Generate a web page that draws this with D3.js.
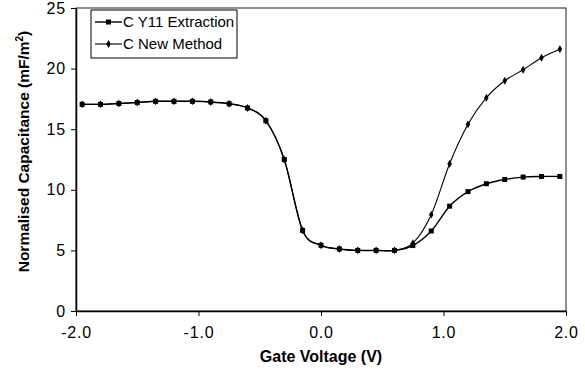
<!DOCTYPE html>
<html>
<head>
<meta charset="utf-8">
<script src="https://cdn.jsdelivr.net/npm/d3@7"></script>
<style>
  body { margin: 0; background: #fff; }
  text { font-family: "Liberation Sans", Arial, sans-serif; fill: #000; }
</style>
</head>
<body>
<div id="chart"></div>
<script>
// gate voltage (V)
const voltage = [-1.95, -1.80, -1.65, -1.50, -1.35, -1.20, -1.05, -0.90, -0.75, -0.60, -0.45, -0.30, -0.15,
  0.00, 0.15, 0.30, 0.45, 0.60, 0.75, 0.90, 1.05, 1.20, 1.35, 1.50, 1.65, 1.80, 1.95];
// C Y11 Extraction (mF/m2)
const cY11 = [17.05, 17.05, 17.12, 17.2, 17.3, 17.3, 17.3, 17.25, 17.1, 16.75, 15.7, 12.5, 6.65,
  5.42, 5.12, 5.0, 5.0, 5.0, 5.4, 6.6, 8.65, 9.85, 10.5, 10.85, 11.05, 11.1, 11.1];
// C New Method (mF/m2)
const cNew = [17.05, 17.05, 17.12, 17.2, 17.3, 17.3, 17.3, 17.25, 17.1, 16.75, 15.7, 12.5, 6.65,
  5.42, 5.12, 5.0, 5.0, 5.0, 5.6, 7.95, 12.15, 15.4, 17.6, 19.0, 19.9, 20.9, 21.6];
const xTicks = ["-2.0", "-1.0", "0.0", "1.0", "2.0"];
const yTicks = [0, 5, 10, 15, 20, 25];
const seriesNames = ["C Y11 Extraction", "C New Method"];

const width = 585, height = 381;
const margin = { left: 76, right: 19, top: 8, bottom: 70 };

const svg = d3.select("#chart").append("svg")
  .attr("width", width)
  .attr("height", height);

const x = d3.scaleLinear().domain([-2, 2]).range([margin.left, width - margin.right]);
const y = d3.scaleLinear().domain([0, 25]).range([height - margin.bottom, margin.top]);

// plot frame
svg.append("rect")
  .attr("x", x(-2)).attr("y", y(25))
  .attr("width", x(2) - x(-2)).attr("height", y(0) - y(25))
  .attr("fill", "none").attr("stroke", "#222").attr("stroke-width", 1);

// axes
const xAxis = svg.append("g")
  .attr("transform", `translate(0,${y(0)})`)
  .call(d3.axisBottom(x).tickValues(xTicks.map(Number)).tickFormat((d, i) => xTicks[i]).tickSize(5).tickSizeOuter(0));
const yAxis = svg.append("g")
  .attr("transform", `translate(${x(-2)},0)`)
  .call(d3.axisLeft(y).tickValues(yTicks).tickSize(5).tickSizeOuter(0));

[xAxis, yAxis].forEach(g => {
  g.select(".domain").attr("stroke", "#000").attr("stroke-width", 1.5);
  g.selectAll(".tick line").attr("stroke", "#000");
  g.selectAll(".tick text")
    .style("font-size", "16px")
    .style("letter-spacing", "0.8px")
    .style("font-family", "Liberation Sans, Arial, sans-serif")
    .attr("fill", "#000");
});
xAxis.selectAll(".tick text").attr("dy", "1.2em");
yAxis.selectAll(".tick text").attr("x", -10);

// axis titles
svg.append("text")
  .attr("x", x(0)).attr("y", 362)
  .attr("text-anchor", "middle")
  .style("font-size", "16px").style("font-weight", "bold")
  .text("Gate Voltage (V)");

const yt = svg.append("text")
  .attr("transform", `translate(29,${(y(0) + y(25)) / 2 - 8}) rotate(-90)`)
  .attr("text-anchor", "middle")
  .style("font-size", "15.5px").style("font-weight", "bold");
yt.append("tspan").text("Normalised Capacitance (mF/m");
yt.append("tspan").attr("dy", -6).style("font-size", "10px").text("2");
yt.append("tspan").attr("dy", 6).text(")");

// smoothed lines
const line = d3.line()
  .x((d, i) => x(voltage[i]))
  .y(d => y(d))
  .curve(d3.curveCardinal.tension(0));

svg.append("path").datum(cNew)
  .attr("d", line).attr("fill", "none").attr("stroke", "#000").attr("stroke-width", 1.1);
svg.append("path").datum(cY11)
  .attr("d", line).attr("fill", "none").attr("stroke", "#000").attr("stroke-width", 1.4);

// markers
svg.append("g").selectAll("rect")
  .data(cY11).join("rect")
  .attr("x", (d, i) => x(voltage[i]) - 2.5)
  .attr("y", d => y(d) - 2.5)
  .attr("width", 5).attr("height", 5)
  .attr("fill", "#000");

const diamond = d3.symbol().type(d3.symbolDiamond).size(18);
svg.append("g").selectAll("path")
  .data(cNew).join("path")
  .attr("transform", (d, i) => `translate(${x(voltage[i])},${y(d)})`)
  .attr("d", diamond)
  .attr("fill", "#000");

// legend
const legend = svg.append("g");
legend.append("rect")
  .attr("x", 91).attr("y", 10).attr("width", 146).attr("height", 48)
  .attr("fill", "#fff").attr("stroke", "#000").attr("stroke-width", 1);

seriesNames.forEach((name, i) => {
  const ly = 22 + i * 22;
  legend.append("line")
    .attr("x1", 95).attr("x2", 122).attr("y1", ly).attr("y2", ly)
    .attr("stroke", "#000").attr("stroke-width", i === 0 ? 1.4 : 1.1);
  if (i === 0) {
    legend.append("rect").attr("x", 106).attr("y", ly - 2.5).attr("width", 5).attr("height", 5).attr("fill", "#000");
  } else {
    legend.append("path").attr("transform", `translate(108.5,${ly})`).attr("d", diamond).attr("fill", "#000");
  }
  legend.append("text")
    .attr("x", 123).attr("y", ly + 5)
    .style("font-size", "15px")
    .text(name);
});
</script>
</body>
</html>
